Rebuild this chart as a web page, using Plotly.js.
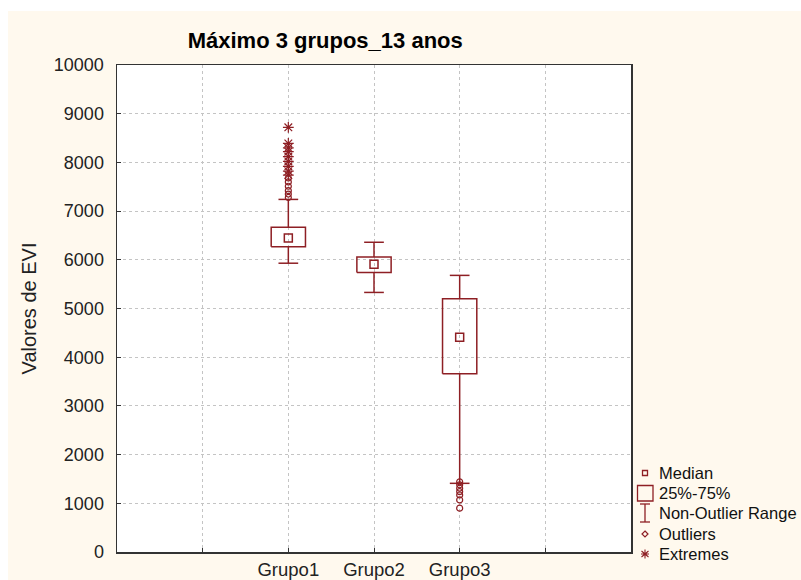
<!DOCTYPE html>
<html>
<head>
<meta charset="utf-8">
<script src="https://cdn.plot.ly/plotly-3.0.1.min.js"></script>
<style>html,body{margin:0;padding:0;background:#fff;}#chart{width:801px;height:580px;}</style>
</head>
<body>
<div id="chart"></div>
<script>
// ---- data ----
const categories = ['Grupo1', 'Grupo2', 'Grupo3'];
const lowerWhisker = [5930, 5330, 1410];
const q1Values = [6270, 5740, 3660];
const medianValues = [6450, 5910, 4410];
const q3Values = [6670, 6060, 5200];
const upperWhisker = [7240, 6360, 5680];
const outliers = [
  [7680, 7600, 7510, 7420, 7350, 7280],
  [],
  [1440, 1380, 1310, 1240, 1170, 1070, 900]
];
const extremes = [
  [8720, 8390, 8300, 8220, 8120, 8020, 7920, 7820, 7740],
  [],
  []
];
const yTicks = [0, 1000, 2000, 3000, 4000, 5000, 6000, 7000, 8000, 9000, 10000];
const legendLabels = ['Median', '25%-75%', 'Non-Outlier Range', 'Outliers', 'Extremes'];

// ---- styling ----
const RED = '#8e1f24';
const CREAM = '#fff9ee';
const FONT = 'Liberation Sans, Arial, sans-serif';
const offset = 2;      // first category sits on the 2nd grid column
const boxHalf = 0.2;
const capHalf = 0.115;

const pos = categories.map((c, i) => i + offset);

const bx = [], by = [];
pos.forEach((c, i) => {
  bx.push(c - boxHalf, c + boxHalf, c + boxHalf, c - boxHalf, c - boxHalf, null);
  by.push(q1Values[i], q1Values[i], q3Values[i], q3Values[i], q1Values[i], null);
  bx.push(c, c, null, c, c, null);
  by.push(q3Values[i], upperWhisker[i], null, q1Values[i], lowerWhisker[i], null);
  bx.push(c - capHalf, c + capHalf, null, c - capHalf, c + capHalf, null);
  by.push(upperWhisker[i], upperWhisker[i], null, lowerWhisker[i], lowerWhisker[i], null);
});

const ox = [], oy = [], ex = [], ey = [];
pos.forEach((c, i) => {
  outliers[i].forEach(v => { ox.push(c); oy.push(v); });
  extremes[i].forEach(v => { ex.push(c); ey.push(v); });
});

const traces = [
  { type: 'scatter', mode: 'lines', x: bx, y: by, line: { color: RED, width: 1.5 }, hoverinfo: 'skip', showlegend: false },
  { type: 'scatter', mode: 'markers', x: pos, y: medianValues, marker: { symbol: 'square-open', size: 8, color: RED, line: { width: 1.5, color: RED } }, showlegend: false },
  { type: 'scatter', mode: 'markers', x: ox, y: oy, marker: { symbol: 'circle-open', size: 6, color: RED, line: { width: 1.2, color: RED } }, showlegend: false },
  { type: 'scatter', mode: 'markers', x: ex, y: ey, marker: { symbol: 'asterisk-open', size: 9, color: RED, line: { width: 1.2, color: RED } }, showlegend: false }
];

// pixel -> paper helpers for legend decoration
const L = 117, R = 631, T = 65, B = 552;
const fx = p => (p - L) / (R - L);
const fy = p => (B - p) / (B - T);

const rows = [473, 493, 513, 534, 554];
const sx = 645;
const shapes = [
  // white strips around the cream panel
  { type: 'rect', xref: 'paper', yref: 'paper', x0: fx(0), x1: fx(801), y0: fy(11), y1: fy(0), fillcolor: '#ffffff', line: { width: 0 }, layer: 'below' },
  { type: 'rect', xref: 'paper', yref: 'paper', x0: fx(0), x1: fx(8), y0: fy(580), y1: fy(0), fillcolor: '#ffffff', line: { width: 0 }, layer: 'below' },
  // legend symbols
  { type: 'rect', xref: 'paper', yref: 'paper', x0: fx(sx - 2.5), x1: fx(sx + 2.5), y0: fy(rows[0] + 2.5), y1: fy(rows[0] - 2.5), line: { color: RED, width: 1.3 } },
  { type: 'rect', xref: 'paper', yref: 'paper', x0: fx(sx - 7.5), x1: fx(sx + 8), y0: fy(rows[1] + 8), y1: fy(rows[1] - 7.5), line: { color: RED, width: 1.3 } },
  { type: 'line', xref: 'paper', yref: 'paper', x0: fx(sx), x1: fx(sx), y0: fy(rows[2] + 9), y1: fy(rows[2] - 9), line: { color: RED, width: 1.3 } },
  { type: 'line', xref: 'paper', yref: 'paper', x0: fx(sx - 5), x1: fx(sx + 5), y0: fy(rows[2] - 9), y1: fy(rows[2] - 9), line: { color: RED, width: 1.3 } },
  { type: 'line', xref: 'paper', yref: 'paper', x0: fx(sx - 5), x1: fx(sx + 5), y0: fy(rows[2] + 9), y1: fy(rows[2] + 9), line: { color: RED, width: 1.3 } },
  { type: 'path', xref: 'paper', yref: 'paper', path: `M ${fx(sx)} ${fy(rows[3] - 3)} L ${fx(sx + 3)} ${fy(rows[3])} L ${fx(sx)} ${fy(rows[3] + 3)} L ${fx(sx - 3)} ${fy(rows[3])} Z`, line: { color: RED, width: 1.2 } },
  { type: 'path', xref: 'paper', yref: 'paper', path: `M ${fx(sx)} ${fy(rows[4] - 4.5)} L ${fx(sx)} ${fy(rows[4] + 4.5)} M ${fx(sx - 3.5)} ${fy(rows[4] - 3)} L ${fx(sx + 3.5)} ${fy(rows[4] + 3)} M ${fx(sx + 3.5)} ${fy(rows[4] - 3)} L ${fx(sx - 3.5)} ${fy(rows[4] + 3)} M ${fx(sx - 4)} ${fy(rows[4])} L ${fx(sx + 4)} ${fy(rows[4])}`, line: { color: RED, width: 1.1 } }
];

const annotations = legendLabels.map((t, i) => ({
  xref: 'paper', yref: 'paper', x: fx(657), y: fy(rows[i]), xanchor: 'left', yanchor: 'middle',
  text: t, showarrow: false, font: { family: FONT, size: 16.5, color: '#111' }
}));

const gridVals = [1, 2, 3, 4, 5];
const gridText = ['', ...categories, ''];

const layout = {
  width: 801, height: 580,
  margin: { l: L, r: 801 - R, t: T, b: 580 - B, pad: 0 },
  paper_bgcolor: CREAM,
  plot_bgcolor: '#ffffff',
  showlegend: false,
  hovermode: false,
  title: {
    text: '<b>Máximo 3 grupos_13 anos</b>',
    font: { family: FONT, size: 22, color: '#000' },
    xref: 'container', x: 0.406, xanchor: 'center',
    yref: 'container', y: 1 - 40 / 580, yanchor: 'middle'
  },
  xaxis: {
    range: [0, 6], tickvals: gridVals, ticktext: gridText,
    showgrid: true, gridcolor: '#c4c4c4', griddash: 'dot', gridwidth: 1,
    zeroline: false, showline: true, mirror: true, linecolor: '#333', linewidth: 1.5,
    ticks: 'inside', ticklen: 4, tickcolor: '#333',
    tickfont: { family: FONT, size: 18.5, color: '#222' },
    automargin: false, fixedrange: true
  },
  yaxis: {
    range: [0, 10000], tickvals: yTicks, tickformat: 'd',
    showgrid: true, gridcolor: '#c4c4c4', griddash: 'dot', gridwidth: 1,
    zeroline: false, showline: true, mirror: true, linecolor: '#333', linewidth: 1.5,
    ticks: 'inside', ticklen: 4, tickcolor: '#333', ticklabelstandoff: 8,
    tickfont: { family: FONT, size: 18, color: '#222' },
    title: { text: 'Valores de EVI', font: { family: FONT, size: 20, color: '#222' }, standoff: 12 },
    automargin: false, fixedrange: true
  },
  shapes: shapes,
  annotations: annotations
};

Plotly.newPlot('chart', traces, layout, { displayModeBar: false, staticPlot: true });
</script>
</body>
</html>
